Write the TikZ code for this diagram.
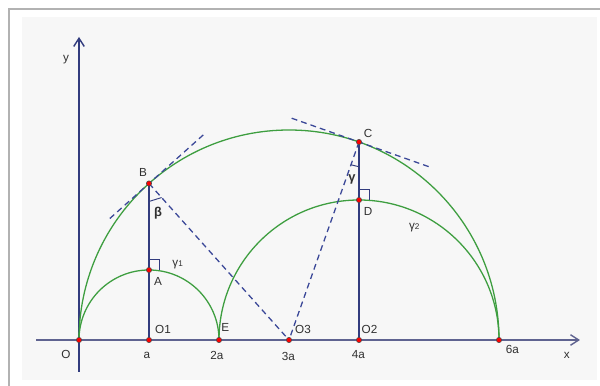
\documentclass[tikz,border=0pt]{standalone}
\usepackage{fontspec}
\setmainfont{Liberation Sans}
\usetikzlibrary{calc}
\usetikzlibrary{arrows.meta}

\definecolor{axiscol}{HTML}{5F6390}
\definecolor{navy}{HTML}{323C7E}
\definecolor{dashcol}{HTML}{3B4898}
\definecolor{arccol}{HTML}{3E9E40}
\definecolor{panel}{HTML}{F7F7F7}
\definecolor{txt}{HTML}{303030}

\begin{document}
\begin{tikzpicture}[x=2.1cm,y=2.1cm,
  axis/.style={line width=1.4pt,-{Straight Barb[length=7pt,width=9pt,line width=1.2pt]}},
  curve/.style={arccol,line width=1.1pt},
  seg/.style={navy,line width=1pt},
  tang/.style={dashcol,line width=1.1pt,dash pattern=on 5pt off 3.5pt},
  pt/.style={circle,fill=red,draw=black!70,line width=0.5pt,inner sep=0pt,minimum size=4.5pt},
  lbl/.style={txt,font=\fontsize{10}{12}\selectfont,inner sep=0pt}
]
\useasboundingbox (-1.1286,-0.6571) rectangle (7.4429,4.8571);
%frame
\fill[white] (-1.1286,-0.6571) rectangle (7.4429,4.8571);
\fill[panel] (-0.814,-0.571) rectangle (7.4,4.614);
\draw[black!30,line width=1.6pt] (-1.0,-0.6571)--(-1.0,4.729)--(7.4429,4.729);

%points
\coordinate (O) at (0,0);
\coordinate (O1) at (1,0);
\coordinate (E) at (2,0);
\coordinate (O3) at (3,0);
\coordinate (O2) at (4,0);
\coordinate (S) at (6,0);
\coordinate (A) at (1,1);
\coordinate (D) at (4,2);
\coordinate (B) at (1,{sqrt(5)});
\coordinate (C) at (4,{sqrt(8)});

%axes
\draw[axis,axiscol] (-0.614,0)--(7.157,0);
\draw[axis,navy] (0,-0.457)--(0,4.329);

%semicircles
\draw[curve] (S) arc[start angle=0,end angle=180,radius=3];
\draw[curve] (E) arc[start angle=0,end angle=180,radius=1];
\draw[curve] (S) arc[start angle=0,end angle=180,radius=2];

%verticals
\draw[seg] (O1)--(B);
\draw[seg] (O2)--(C);

%right angles
\draw[seg,line width=0.8pt] ($(A)+(0,0.15)$)--($(A)+(0.15,0.15)$)--($(A)+(0.15,0)$);
\draw[seg,line width=0.8pt] ($(D)+(0,0.15)$)--($(D)+(0.15,0.15)$)--($(D)+(0.15,0)$);

%radii and tangents
\draw[tang] (B)--(O3);
\draw[tang] (C)--(O3);
\draw[tang] ($(B)!0.25!-90:(O3)$)--($(B)!0.36!90:(O3)$);
\draw[tang] ($(C)!0.34!-90:(O3)$)--($(C)!0.36!90:(O3)$);

%angle marks
\draw[seg,line width=0.8pt] ($(B)!0.09!(O3)$)--($(B)!0.115!(O1)$);
\draw[seg,line width=0.8pt] ($(C)!0.115!(O3)$)--($(C)!0.125!(O2)$);

%dots
\foreach \p in {O,O1,E,O3,O2,S,A,D,B,C}
  \node[pt] (d\p) at (\p) {};

%labels
\node[lbl] (ly) at (-0.186,4.0) {y};
\node[lbl] (lx) at (6.97,-0.214) {x};
\node[lbl] (lO) at (-0.186,-0.2) {O};
\node[lbl] (la) at (0.97,-0.214) {a};
\node[lbl] (l2a) at (1.97,-0.214) {2a};
\node[lbl] (l3a) at (2.99,-0.24) {3a};
\node[lbl] (l4a) at (3.99,-0.214) {4a};
\node[lbl] (l6a) at (6.19,-0.14) {6a};
\node[lbl] (lO1) at (1.2,0.157) {O1};
\node[lbl] (lE) at (2.09,0.186) {E};
\node[lbl] (lO3) at (3.2,0.157) {O3};
\node[lbl] (lO2) at (4.15,0.157) {O2};
\node[lbl] (lA) at (1.13,0.83) {A};
\node[lbl] (lB) at (0.914,2.4) {B};
\node[lbl] (lC) at (4.13,2.957) {C};
\node[lbl] (lD) at (4.13,1.84) {D};
\node[lbl,font=\bfseries\fontsize{11}{12}\selectfont] (lbeta) at (1.13,1.81) {β};
\node[lbl,font=\bfseries\fontsize{11}{12}\selectfont] (lgamma) at (3.9,2.29) {γ};
\node[lbl] (lg1) at (1.41,1.07) {γ{\fontsize{7}{8}\selectfont 1}};
\node[lbl] (lg2) at (4.79,1.61) {γ{\fontsize{7}{8}\selectfont 2}};
\end{tikzpicture}
\end{document}
